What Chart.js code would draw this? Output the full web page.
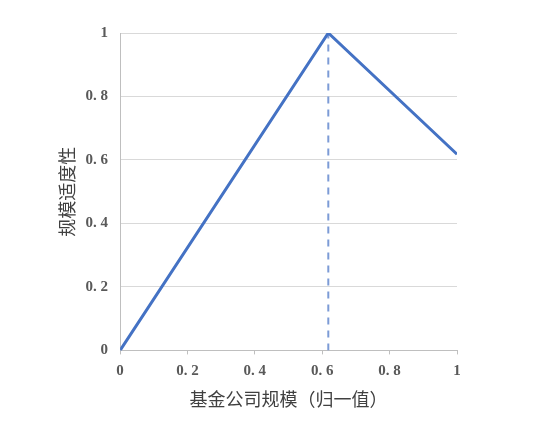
<!DOCTYPE html>
<html>
<head>
<meta charset="utf-8">
<script src="https://cdn.jsdelivr.net/npm/chart.js@4/dist/chart.umd.min.js"></script>
<style>
  html, body { margin: 0; padding: 0; background: #fff; }
  #wrap { width: 550px; height: 435px; }
</style>
</head>
<body>
<div id="wrap"><canvas id="fitChart" width="550" height="435"></canvas></div>
<script>
// 规模适度性 curve: rises to 1 at the golden ratio point, then falls
const scaleX = [0, 0.618, 1];
const fitY = [0, 1, 0.618];
const peakX = [0.618, 0.618];
const peakY = [0, 1];
const xTicks = [0, 0.2, 0.4, 0.6, 0.8, 1];
const yTicks = [0, 0.2, 0.4, 0.6, 0.8, 1];

const tickFont = { family: "'Liberation Serif', 'DejaVu Serif', serif", size: 15, weight: 'bold' };
const titleFont = { family: "'Noto Sans CJK SC', sans-serif", size: 18 };

function fmtTick(v) {
    // reference shows "0. 2" style labels
    const s = String(Math.round(v * 10) / 10);
    return s.replace('.', '. ');
}

const ctx = document.getElementById('fitChart').getContext('2d');
new Chart(ctx, {
    type: 'scatter',
    data: {
        datasets: [
            {
                label: '规模适度性',
                data: scaleX.map((x, i) => ({ x: x, y: fitY[i] })),
                showLine: true,
                borderColor: '#4472C4',
                borderWidth: 3,
                pointRadius: 0,
                tension: 0
            },
            {
                label: 'peak',
                data: peakX.map((x, i) => ({ x: x, y: peakY[i] })),
                showLine: true,
                borderColor: '#7C9BD6',
                borderWidth: 2,
                borderDash: [7, 6],
                pointRadius: 0
            }
        ]
    },
    options: {
        responsive: false,
        animation: false,
        layout: { padding: { left: 56, right: 93, top: 33, bottom: 25 } },
        plugins: { legend: { display: false }, tooltip: { enabled: false } },
        scales: {
            x: {
                type: 'linear',
                min: 0,
                max: 1,
                afterBuildTicks: axis => { axis.ticks = xTicks.map(v => ({ value: v })); },
                ticks: { color: '#595959', font: tickFont, padding: 8, callback: fmtTick },
                grid: { display: true, drawOnChartArea: false, drawTicks: true, tickLength: 4, color: '#BFBFBF' },
                border: { display: true, color: '#BFBFBF', width: 1 },
                title: { display: true, text: '基金公司规模（归一值）', color: '#404040', font: titleFont, padding: { top: 0, bottom: 0 } }
            },
            y: {
                type: 'linear',
                min: 0,
                max: 1,
                afterBuildTicks: axis => { axis.ticks = yTicks.map(v => ({ value: v })); },
                ticks: { color: '#595959', font: tickFont, padding: 12, callback: fmtTick },
                grid: { color: '#D9D9D9', drawTicks: false, lineWidth: 1 },
                border: { display: true, color: '#BFBFBF', width: 1 },
                title: { display: true, text: '规模适度性', color: '#404040', font: titleFont, padding: { top: 0, bottom: -4 } }
            }
        }
    }
});
</script>
</body>
</html>
